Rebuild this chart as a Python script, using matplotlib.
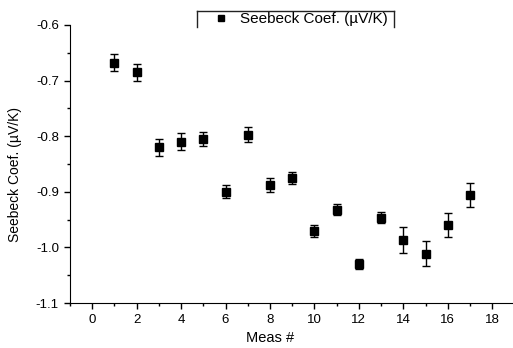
import matplotlib
matplotlib.use("Agg")
import matplotlib.pyplot as plt
from matplotlib.lines import Line2D
import numpy as np

plt.rcParams['font.family'] = ['Liberation Sans', 'DejaVu Sans']

meas = [1, 2, 3, 4, 5, 6, 7, 8, 9, 10, 11, 12, 13, 14, 15, 16, 17]
seebeck = [-0.668, -0.685, -0.820, -0.810, -0.805, -0.900, -0.797, -0.888, -0.875,
           -0.970, -0.932, -1.030, -0.947, -0.987, -1.011, -0.960, -0.906]
err = [0.015, 0.015, 0.015, 0.015, 0.013, 0.012, 0.014, 0.013, 0.011,
       0.011, 0.010, 0.009, 0.010, 0.023, 0.023, 0.021, 0.021]
label = 'Seebeck Coef. (\u00b5V/K)'

W, H = 513, 348
fig = plt.figure(figsize=(W/100, H/100), dpi=100)
ax = fig.add_axes([70/W, 45/H, 444.4/W, 278/H])

ax.errorbar(meas, seebeck, yerr=err, fmt='s', color='black', ms=5.5,
            elinewidth=1, capsize=3, capthick=1)

ax.set_xlim(-1, 19)
ax.set_ylim(-1.1, -0.6)
ax.set_xticks(np.arange(0, 19, 2))
ax.set_xticks(np.arange(-1, 20, 1), minor=True)
ax.set_yticks(np.arange(-1.1, -0.55, 0.1))
ax.set_yticks(np.arange(-1.1, -0.55, 0.05), minor=True)
ax.set_yticklabels(['-1.1', '-1.0', '-0.9', '-0.8', '-0.7', '-0.6'])
ax.spines['top'].set_visible(False)
ax.spines['right'].set_visible(False)
ax.tick_params(which='major', direction='out', length=4, width=1, labelsize=9.5, pad=4)
ax.tick_params(which='minor', direction='out', length=2.5, width=1)

ax.set_xlabel('Meas #', fontsize=10.5)
ax.xaxis.set_label_coords((270-70)/444.4, (303-331)/278)
ax.set_ylabel(label, fontsize=10)
ax.yaxis.set_label_coords((22-70)/444.4, (303-175)/278)

handle = Line2D([], [], marker='s', ls='none', color='black', ms=5)
leg = fig.legend([handle], [label], loc='center left',
                 bbox_to_anchor=(213/W, 1 - 19/H), frameon=False, fontsize=11,
                 handlelength=1.0, handletextpad=0.8, borderpad=0, borderaxespad=0)

frame_kw = dict(color='#222222', lw=1.0, transform=fig.transFigure)
fig.add_artist(Line2D([197/W, 394/W], [1 - 11/H, 1 - 11/H], **frame_kw))
fig.add_artist(Line2D([197/W, 197/W], [1 - 11/H, 1 - 27/H], **frame_kw))
fig.add_artist(Line2D([394/W, 394/W], [1 - 11/H, 1 - 27/H], **frame_kw))

fig.savefig('out.png', dpi=100)
